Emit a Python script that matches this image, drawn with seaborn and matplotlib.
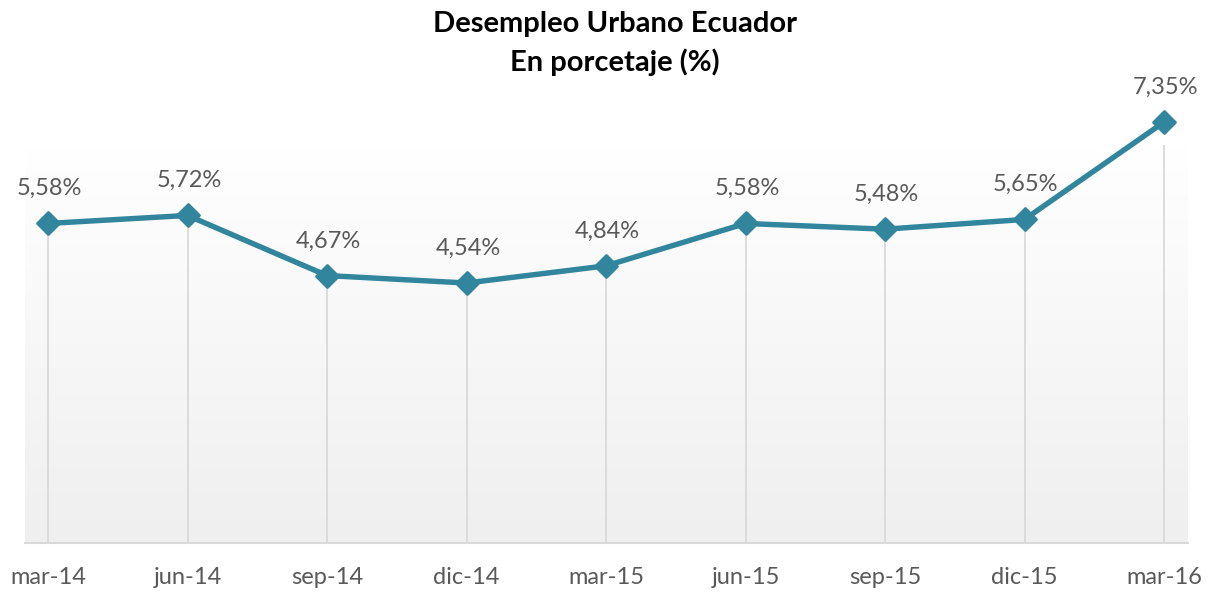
import numpy as np
import pandas as pd
import seaborn as sns
import matplotlib.pyplot as plt
from matplotlib.colors import LinearSegmentedColormap
from matplotlib.markers import MarkerStyle

# datos del grafico
periodos = ["mar-14", "jun-14", "sep-14", "dic-14", "mar-15",
            "jun-15", "sep-15", "dic-15", "mar-16"]
desempleo = [5.58, 5.72, 4.67, 4.54, 4.84, 5.58, 5.48, 5.65, 7.35]

titulo = "Desempleo Urbano Ecuador"
subtitulo = "En porcetaje (%)"

df = pd.DataFrame({"x": range(len(periodos)), "periodo": periodos, "valor": desempleo})
df["etiqueta"] = [f"{v:.2f}%".replace(".", ",") for v in desempleo]

sns.set_style("white")
plt.rcParams["font.family"] = ["Lato", "DejaVu Sans"]

color_linea = "#31859C"
gris_texto = "#595959"
gris_linea = "#d9d9d9"

W, H = 1213, 592
fig = plt.figure(figsize=(W / 100, H / 100), dpi=100)
# area de trazado en pixeles: x 25-1188, y 145-543
ax = fig.add_axes([25 / W, (H - 543) / H, (1188 - 25) / W, (543 - 145) / H])

x0, x1 = -23 / 139.5, 8 + 24 / 139.5
ytop = 6.95
ax.set_xlim(x0, x1)
ax.set_ylim(0, ytop)

# fondo degradado
cmap = LinearSegmentedColormap.from_list("fondo", ["#ffffff", "#efefef"])
ax.imshow(np.linspace(0, 1, 256).reshape(-1, 1), cmap=cmap, aspect="auto",
          extent=[x0, x1, 0, ytop], zorder=0)

# lineas verticales
ax.vlines(df["x"], 0, df["valor"], color=gris_linea, lw=1.3, zorder=1)

sns.lineplot(data=df, x="x", y="valor", ax=ax, color=color_linea, linewidth=3.9,
             marker=MarkerStyle("D", joinstyle="round"), markersize=11.5,
             markeredgecolor=color_linea, markeredgewidth=2,
             zorder=3, clip_on=False)

for _, r in df.iterrows():
    ax.annotate(r["etiqueta"], (r["x"], r["valor"]), xytext=(1, 25),
                textcoords="offset points", ha="center", va="center",
                fontsize=17, color=gris_texto, annotation_clip=False)

for s in ["top", "left", "right"]:
    ax.spines[s].set_visible(False)
ax.spines["bottom"].set_color(gris_linea)
ax.spines["bottom"].set_linewidth(1.5)

ax.set_xticks(df["x"], periodos)
ax.set_yticks([])
ax.tick_params(axis="x", length=0, pad=17, labelsize=17, labelcolor=gris_texto)
ax.set_xlabel("")
ax.set_ylabel("")

fig.text(615 / W, 1 - 24 / H, titulo, ha="center", va="center",
         fontsize=21, fontweight="bold", color="black")
fig.text(615 / W, 1 - 62 / H, subtitulo, ha="center", va="center",
         fontsize=21, fontweight="bold", color="black")

fig.savefig("out.png", dpi=100)
